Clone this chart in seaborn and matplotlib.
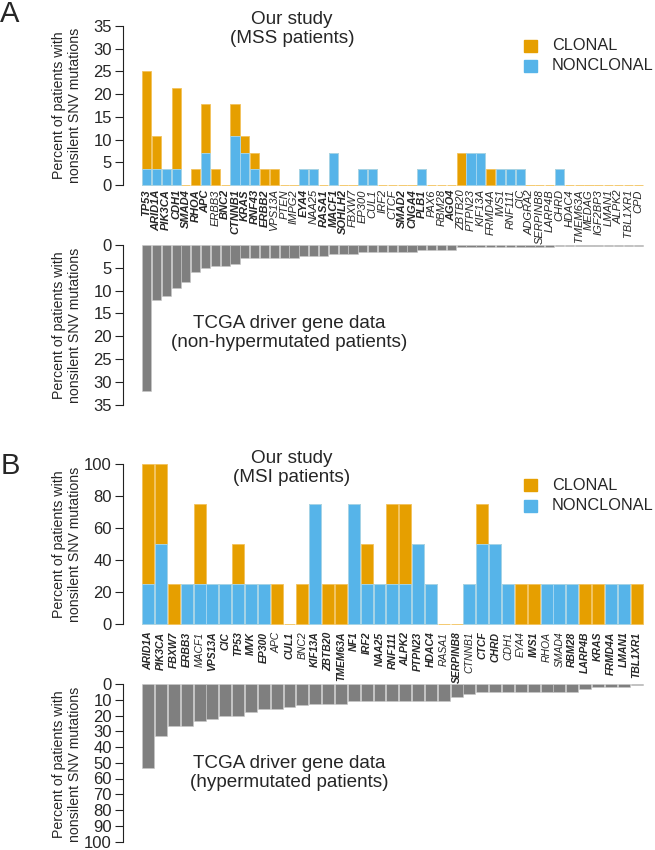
import numpy as np
import pandas as pd
import matplotlib
matplotlib.use("Agg")
import matplotlib.pyplot as plt
from matplotlib.patches import Rectangle
import seaborn as sns

# ---- panel A: MSS patients (percent of patients) ----
genes_mss = ["TP53", "ARID1A", "PIK3CA", "CDH1", "SMAD4", "RHOA", "APC", "ERBB3",
             "BNC2", "CTNNB1", "KRAS", "RNF43", "ERBB2", "VPS13A", "PTEN", "IMPG2",
             "EYA4", "NAA25", "RASA1", "MACF1", "SOHLH2", "FBXW7", "EP300", "CUL1",
             "IRF2", "CTCF", "SMAD2", "CNGA4", "PLB1", "PAX6", "RBM28", "AGO4",
             "ZBTB20", "PTPN23", "KIF13A", "FRMD4A", "IWS1", "RNF111", "CIC", "ADGRA2",
             "SERPINB8", "LARP4B", "CHRD", "HDAC4", "TMEM63A", "MEDAG", "IGF2BP3",
             "LMAN1", "ALPK2", "TBL1XR1", "CPD"]
bold_mss = ["TP53", "ARID1A", "PIK3CA", "CDH1", "SMAD4", "RHOA", "APC", "BNC2",
            "CTNNB1", "KRAS", "RNF43", "ERBB2", "EYA4", "RASA1", "MACF1", "SOHLH2",
            "SMAD2", "CNGA4", "PLB1", "AGO4"]
clonal_mss = [21.43, 7.14, 0, 17.86, 0, 3.57, 10.71, 3.57,
              0, 7.14, 3.57, 3.57, 3.57, 3.57, 0, 0,
              0, 0, 0, 0, 0, 0, 0, 0,
              0, 0, 0, 0, 0, 0, 0, 0,
              7.14, 0, 0, 3.57, 0, 0, 0, 0,
              0, 0, 0, 0, 0, 0, 0, 0, 0, 0, 0]
nonclonal_mss = [3.57, 3.57, 3.57, 3.57, 0, 0, 7.14, 0,
                 0, 10.71, 7.14, 3.57, 0, 0, 0, 0,
                 3.57, 3.57, 0, 7.14, 0, 0, 3.57, 3.57,
                 0, 0, 0, 0, 3.57, 0, 0, 0,
                 0, 7.14, 7.14, 0, 3.57, 3.57, 3.57, 0,
                 0, 0, 3.57, 0, 0, 0, 0, 0, 0, 0, 0]
tcga_nonhyper = [32.1, 12.1, 11.2, 9.5, 8.2, 6.0, 5.1, 4.6, 4.6, 4.2,
                 2.9, 2.9, 2.9, 2.9, 2.9, 2.9, 2.4, 2.4, 2.4, 2.0,
                 2.0, 2.0, 1.5, 1.5, 1.5, 1.5, 1.5, 1.5, 1.1, 1.1,
                 1.1, 1.1, 0.45, 0.45, 0.45, 0.45, 0.45, 0.45, 0.45, 0.45,
                 0.45, 0.45, 0.2, 0.2, 0.2, 0.2, 0.2, 0.2, 0.2, 0.2, 0.2]

# ---- panel B: MSI patients ----
genes_msi = ["ARID1A", "PIK3CA", "FBXW7", "ERBB3", "MACF1", "VPS13A", "CIC", "TP53",
             "MVK", "EP300", "APC", "CUL1", "BNC2", "KIF13A", "ZBTB20", "TMEM63A",
             "NF1", "IRF2", "NAA25", "RNF111", "ALPK2", "PTPN23", "HDAC4", "RASA1",
             "SERPINB8", "CTNNB1", "CTCF", "CHRD", "CDH1", "EYA4", "IWS1", "RHOA",
             "SMAD4", "RBM28", "LARP4B", "KRAS", "FRMD4A", "LMAN1", "TBL1XR1"]
bold_msi = ["ARID1A", "PIK3CA", "FBXW7", "ERBB3", "VPS13A", "CIC", "TP53", "MVK",
            "EP300", "CUL1", "KIF13A", "ZBTB20", "TMEM63A", "NF1", "IRF2", "NAA25",
            "RNF111", "ALPK2", "PTPN23", "HDAC4", "SERPINB8", "CTCF", "CHRD", "IWS1",
            "RBM28", "LARP4B", "KRAS", "FRMD4A", "LMAN1", "TBL1XR1"]
clonal_msi = [75, 50, 25, 0, 50, 0, 0, 25, 0, 0, 25, 0, 25, 0, 25, 25,
              0, 25, 0, 50, 50, 0, 0, 0, 0, 0, 25, 0, 0, 25, 25, 0,
              0, 0, 25, 25, 0, 0, 25]
nonclonal_msi = [25, 50, 0, 25, 25, 25, 25, 25, 25, 25, 0, 0, 0, 75, 0, 0,
                 75, 25, 25, 25, 25, 50, 25, 0, 0, 25, 50, 50, 25, 0, 0, 25,
                 25, 25, 0, 0, 25, 25, 0]
tcga_hyper = [53.5, 33.3, 26.8, 26.8, 23.7, 22.0, 20.5, 20.5, 17.6, 15.9,
              15.9, 14.7, 13.2, 12.8, 12.8, 12.8, 11.1, 11.1, 11.1, 10.8,
              10.8, 10.8, 10.8, 10.8, 8.4, 6.3, 4.8, 4.8, 4.8, 4.8,
              4.8, 4.8, 4.8, 4.8, 3.3, 1.7, 1.7, 1.7, 0.5]

ORANGE, ORANGE_EDGE = "#E69F00", "#F3C25A"
BLUE, BLUE_EDGE = "#56B4E9", "#A6D8F3"
GREY, GREY_EDGE = "#7F7F7F", "#C8C8C8"

sns.set_style("ticks")
plt.rcParams["font.family"] = ["Liberation Sans", "DejaVu Sans"]

W, H = 655, 850
fig = plt.figure(figsize=(W / 100, H / 100), dpi=100)


def px_axes(left, top, right, bottom):
    return fig.add_axes([left / W, 1 - bottom / H, (right - left) / W, (bottom - top) / H])


def style_y(ax, ymax, step):
    sns.despine(ax=ax, top=True, right=True, bottom=True)
    ax.spines["left"].set_bounds(0, ymax)
    ax.spines["left"].set_linewidth(0.8)
    ax.spines["left"].set_color("#222222")
    ax.set_yticks(np.arange(0, ymax + 1, step))
    ax.tick_params(axis="y", labelsize=12, length=5.5, width=0.8, pad=2.5, color="#222222")
    ax.set_xlabel("")
    ax.set_ylabel("")
    for p in ax.patches:
        p.set_clip_on(False)


def study_panel(ax, genes, clonal, nonclonal, bold, ymax, step, lsize, pad, left_units):
    df = pd.DataFrame({"gene": genes, "clonal": clonal, "nonclonal": nonclonal})
    df["total"] = df.clonal + df.nonclonal
    sns.barplot(data=df, x="gene", y="total", order=genes, color=ORANGE, saturation=1,
                width=0.93, edgecolor=ORANGE_EDGE, linewidth=0.6, errorbar=None, ax=ax)
    nc = df[df.nonclonal > 0]
    sns.barplot(data=nc, x="gene", y="nonclonal", order=genes, color=BLUE, saturation=1,
                width=0.93, edgecolor=BLUE_EDGE, linewidth=0.6, errorbar=None, ax=ax)
    ax.set_ylim(0, ymax)
    ax.set_xlim(-0.5 - left_units, len(genes) - 0.5)
    style_y(ax, ymax, step)
    ax.set_xticks(range(len(genes)))
    ax.set_xticklabels(genes, rotation=90, fontstyle="italic", fontsize=lsize)
    for lbl in ax.get_xticklabels():
        lbl.set_fontweight("bold" if lbl.get_text() in bold else "normal")
    ax.tick_params(axis="x", length=0, pad=pad)


def tcga_panel(ax, genes, vals, ymax, step, left_units):
    sns.barplot(x=genes, y=vals, order=genes, color=GREY, saturation=1, width=0.93,
                edgecolor=GREY_EDGE, linewidth=0.4, errorbar=None, ax=ax)
    ax.set_ylim(ymax, 0)
    ax.set_xlim(-0.5 - left_units, len(genes) - 0.5)
    style_y(ax, ymax, step)
    ax.set_xticks([])


def legend(y1, y2):
    for yc, col, lab in [(y1, ORANGE, "CLONAL"), (y2, BLUE, "NONCLONAL")]:
        fig.patches.append(Rectangle((524 / W, 1 - (yc + 6) / H), 12.5 / W, 12 / H,
                                     color=col, transform=fig.transFigure))
        fig.text(552 / W, 1 - yc / H, lab, ha="left", va="center", fontsize=11.7)


YLAB = "Percent of patients with\nnonsilent SNV mutations"

# Panel A
axA1 = px_axes(123, 26, 643, 185)
study_panel(axA1, genes_mss, clonal_mss, nonclonal_mss, bold_mss, 35, 5, 8.0, 3.0, 1.9)
axA2 = px_axes(123, 245, 643, 404.7)
tcga_panel(axA2, genes_mss, tcga_nonhyper, 35, 5, 1.9)

# Panel B
axB1 = px_axes(123, 464.3, 643, 624)
study_panel(axB1, genes_msi, clonal_msi, nonclonal_msi, bold_msi, 100, 20, 7.5, 5.5, 1.454)
axB2 = px_axes(123, 684, 643, 841.5)
tcga_panel(axB2, genes_msi, tcga_hyper, 100, 10, 1.454)

for yc in [105.5, 325, 544, 764]:
    fig.text(67 / W, 1 - yc / H, YLAB, rotation=90, ha="center", va="center", fontsize=10.2)

fig.text(292 / W, 1 - 29 / H, "Our study\n(MSS patients)", ha="center", va="center", fontsize=13.6)
fig.text(289 / W, 1 - 333 / H, "TCGA driver gene data\n(non-hypermutated patients)",
         ha="center", va="center", fontsize=13.6)
fig.text(292 / W, 1 - 468 / H, "Our study\n(MSI patients)", ha="center", va="center", fontsize=13.6)
fig.text(289 / W, 1 - 773 / H, "TCGA driver gene data\n(hypermutated patients)",
         ha="center", va="center", fontsize=13.6)

legend(46, 66)
legend(485, 505.5)

fig.text(10 / W, 1 - 14 / H, "A", ha="center", va="center", fontsize=21)
fig.text(10 / W, 1 - 466 / H, "B", ha="center", va="center", fontsize=21)

fig.savefig("out.png", dpi=100)
